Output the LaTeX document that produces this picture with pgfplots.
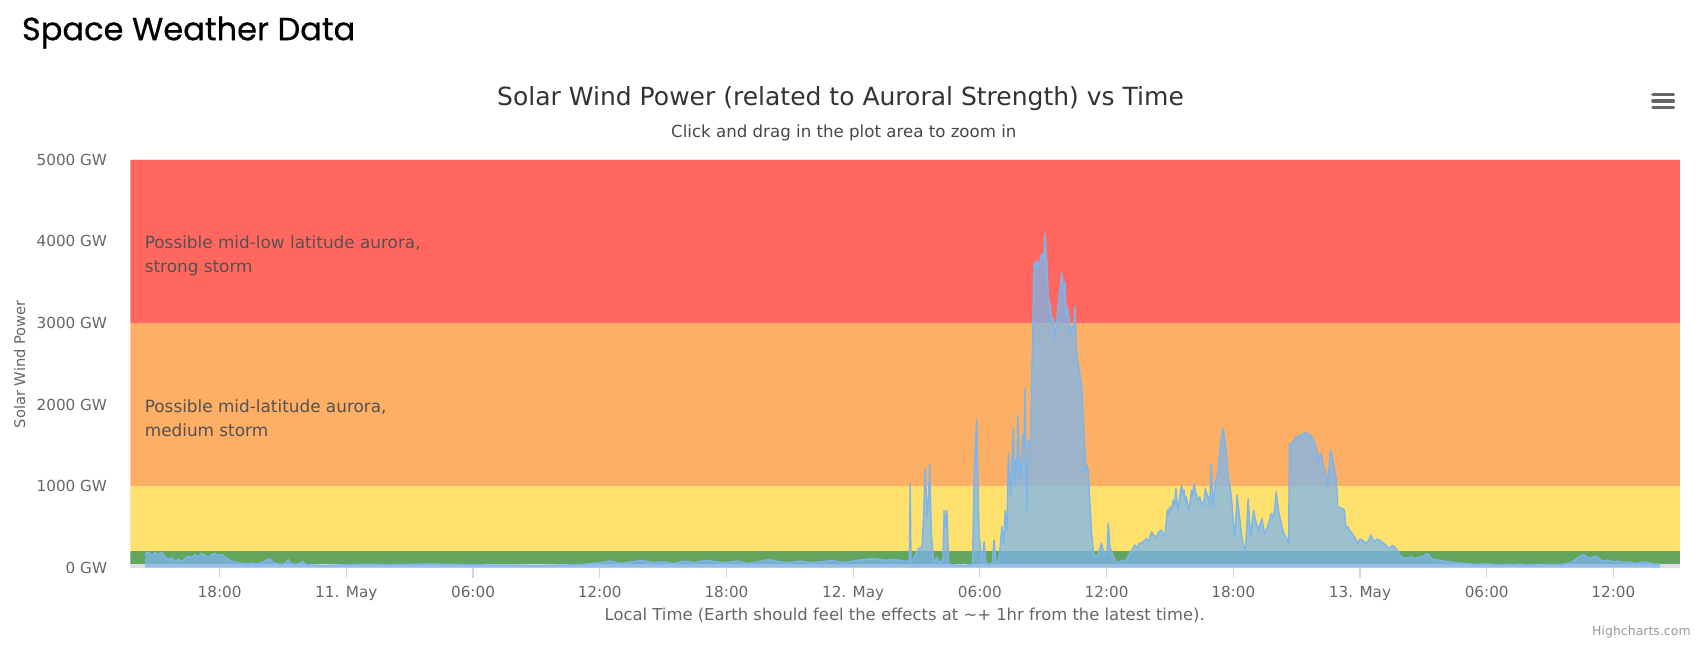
\documentclass[border=0pt]{standalone}
\usepackage{pgfplots}
\pgfplotsset{compat=1.18}
\usepackage{pgfplotstable}
\usepackage{fontspec}
\setmainfont{DejaVu Sans}
\newfontfamily\headfont{Poppins}[FakeBold=0.6]
\definecolor{bandred}{HTML}{FF675F}
\definecolor{bandorange}{HTML}{FDAF65}
\definecolor{bandyellow}{HTML}{FFE26E}
\definecolor{bandgreen}{HTML}{63A55D}
\definecolor{bandgrey}{HTML}{DCDEE2}
\definecolor{hcblue}{HTML}{7CB5EC}
\definecolor{hcaxis}{HTML}{CCD6EB}
\definecolor{tdark}{HTML}{333333}
\definecolor{tmid}{HTML}{666666}
\definecolor{tlight}{HTML}{999999}

\pgfplotstableread{
x y
14.47 170
14.63 190
14.79 150
14.94 185
15.10 160
15.26 190
15.42 130
15.57 100
15.73 120
15.89 80
16.05 100
16.20 70
16.36 110
16.52 140
16.68 120
16.83 160
16.99 130
17.15 175
17.31 150
17.46 120
17.62 160
17.78 170
17.94 150
18.09 160
18.25 130
18.41 100
18.57 80
18.72 70
18.88 60
19.12 50
19.35 45
19.59 55
19.83 45
20.06 70
20.22 90
20.38 110
20.54 60
20.77 45
21.01 40
21.17 70
21.25 100
21.36 50
21.56 40
21.80 50
21.95 75
22.08 35
22.5 30
23.0 25
23.5 30
24.0 35
25.0 40
26.0 35
27.0 40
28.0 45
29.0 40
30.0 35
31.0 30
32.0 30
33.0 25
34.0 30
35.0 35
35.6 50
36.0 60
36.5 80
37.0 50
37.5 70
38.0 90
38.5 60
39.0 70
39.5 50
40.0 80
40.5 60
41.0 90
41.5 70
42.0 60
42.5 80
43.0 50
43.5 70
44.0 100
44.5 70
45.0 60
45.5 80
46.0 60
46.5 70
47.0 90
47.5 60
48.0 80
48.5 100
49.0 110
49.5 90
50.0 100
50.4 80
50.66 80
50.70 1030
50.74 60
50.94 150
51.10 235
51.26 250
51.33 600
51.41 1220
51.51 620
51.57 900
51.62 1265
51.70 420
51.81 50
51.96 130
52.12 50
52.25 100
52.31 700
52.39 500
52.44 700
52.52 50
52.83 30
53.30 25
53.65 40
53.74 1237
53.85 1822
53.96 420
54.09 50
54.20 317
54.29 50
54.48 40
54.59 60
54.67 338
54.77 50
54.88 80
54.96 250
55.04 500
55.12 300
55.20 700
55.28 450
55.35 1400
55.46 900
55.52 1300
55.59 1720
55.65 1000
55.70 1320
55.75 1150
55.80 1870
55.91 1070
55.97 1300
56.03 1640
56.09 1500
56.14 2200
56.22 660
56.30 1560
56.36 1450
56.41 1600
56.50 2870
56.57 3730
56.63 3650
56.69 3770
56.76 3690
56.82 3730
56.88 3800
56.93 3850
57.01 3770
57.05 3900
57.09 4100
57.13 3850
57.17 3730
57.24 3320
57.30 3250
57.35 3160
57.40 3080
57.45 2990
57.50 3050
57.56 2790
57.62 2950
57.67 3120
57.72 3260
57.76 3360
57.82 3450
57.87 3610
57.93 3480
57.98 3400
58.03 3500
58.08 3040
58.14 3200
58.19 3120
58.25 3000
58.30 2870
58.36 2950
58.43 2910
58.50 3200
58.58 2630
58.65 2500
58.71 2420
58.77 2300
58.82 2220
58.90 1810
58.96 1500
59.02 1200
59.08 1250
59.13 1200
59.19 900
59.24 660
59.30 400
59.37 210
59.45 130
59.61 170
59.76 300
59.90 150
60.02 200
60.08 542
60.16 255
60.32 133
60.45 80
60.55 51
60.70 90
60.87 72
61.00 130
61.10 174
61.20 220
61.34 276
61.45 240
61.55 300
61.66 297
61.78 330
61.89 358
62.00 320
62.13 440
62.25 390
62.36 378
62.48 440
62.60 460
62.68 410
62.76 378
62.82 560
62.88 705
62.93 650
62.99 746
63.07 700
63.15 828
63.22 760
63.28 971
63.33 820
63.39 705
63.47 880
63.55 1012
63.61 900
63.67 950
63.72 820
63.78 868
63.84 760
63.89 705
63.96 820
64.02 950
64.08 880
64.14 1032
64.20 950
64.25 889
64.33 820
64.41 868
64.49 800
64.57 766
64.63 850
64.68 971
64.75 900
64.81 868
64.88 746
64.96 1278
65.04 746
65.10 900
65.15 1053
65.22 1100
65.28 1196
65.34 1350
65.40 1523
65.46 1620
65.51 1708
65.57 1620
65.62 1523
65.67 1400
65.72 1196
65.78 1100
65.83 1032
65.89 900
65.94 787
66.00 550
66.07 378
66.12 600
66.18 889
66.24 750
66.30 623
66.38 420
66.46 297
66.57 194
66.63 450
66.70 848
66.76 600
66.82 378
66.89 550
66.96 705
67.02 620
67.09 542
67.15 500
67.20 460
67.28 540
67.36 603
67.42 500
67.48 419
67.56 470
67.64 501
67.72 600
67.80 664
67.88 620
67.96 705
68.03 930
68.09 800
68.14 705
68.20 620
68.27 542
68.35 460
68.43 399
68.52 360
68.62 297
68.66 1523
68.74 1500
68.82 1544
68.90 1580
68.98 1605
69.06 1590
69.14 1626
69.22 1610
69.29 1646
69.37 1630
69.45 1667
69.53 1640
69.61 1605
69.68 1620
69.76 1585
69.84 1530
69.92 1482
69.98 1400
70.03 1319
70.10 1380
70.16 1400
70.22 1300
70.29 1237
70.35 1200
70.40 1155
70.47 971
70.53 1200
70.60 1441
70.66 1400
70.71 1319
70.79 1200
70.87 1114
70.95 746
71.03 740
71.11 726
71.19 720
71.26 705
71.34 480
71.42 500
71.50 460
71.62 420
71.74 378
71.82 340
71.89 297
72.00 350
72.13 337
72.25 300
72.37 317
72.45 360
72.52 399
72.60 350
72.68 317
72.80 350
72.92 337
73.03 310
73.15 297
73.27 260
73.39 235
73.51 270
73.63 255
73.70 230
73.78 215
73.86 170
73.94 133
74.10 120
74.25 113
74.41 130
74.57 113
74.72 120
74.88 133
75.05 150
75.20 174
75.35 120
75.5 100
75.75 90
76.0 80
76.25 70
76.5 60
76.75 55
77.0 50
77.5 40
78.0 45
78.5 35
79.0 40
79.5 30
80.0 35
80.5 30
81.0 40
81.5 35
82.0 60
82.15 90
82.3 120
82.45 140
82.6 160
82.75 130
82.9 110
83.05 130
83.2 140
83.35 100
83.5 80
83.75 90
84.0 70
84.25 80
84.5 60
84.75 70
85.0 50
85.25 60
85.5 70
85.75 50
86.0 40
86.2 50
}\swdata

\begin{document}
\begin{tikzpicture}[x=1pt,y=1pt]
\begin{axis}[
  scale only axis,
  width=1425pt, height=375pt,
  at={(120pt,75pt)}, anchor=south west,
  xmin=13.78, xmax=87.15, ymin=0, ymax=5000,
  axis lines*=left,
  x axis line style={draw=hcaxis, line width=1pt, -},
  y axis line style={draw=none},
  xtick={18,24,30,36,42,48,54,60,66,72,78,84},
  xticklabels={18:00,11. May,06:00,12:00,18:00,12. May,06:00,12:00,18:00,13. May,06:00,12:00},
  ytick={0,1000,2000,3000,4000,5000},
  yticklabels={0 GW,1000 GW,2000 GW,3000 GW,4000 GW,5000 GW},
  tick align=outside,
  major tick length=10pt,
  xtick style={draw=hcaxis, line width=1pt},
  ytick style={draw=none},
  ticklabel style={font=\fontsize{14}{16}\selectfont, text=tmid},
  xticklabel style={yshift=-4pt},
  yticklabel style={xshift=-8pt},
  clip=true,
]
\fill[bandred] (axis cs:13.78,3000) rectangle (axis cs:87.15,5000);
\fill[bandorange] (axis cs:13.78,1000) rectangle (axis cs:87.15,3000);
\fill[bandyellow] (axis cs:13.78,200) rectangle (axis cs:87.15,1000);
\fill[bandgreen] (axis cs:13.78,50) rectangle (axis cs:87.15,200);
\fill[bandgrey] (axis cs:13.78,0) rectangle (axis cs:87.15,50);
\draw[draw=hcaxis!60, line width=1pt] (axis cs:13.78,5000) -- (axis cs:87.15,5000);
\addplot[draw=none, fill=hcblue, fill opacity=0.75] table[x=x,y=y] {\swdata} \closedcycle;
\addplot[draw=hcblue, line width=1.3pt, line join=round] table[x=x,y=y] {\swdata};
\end{axis}
% header
\node[anchor=base west, inner sep=0pt, font=\headfont\fontsize{29.5}{34}\selectfont, text=black] at (20,560) {Space Weather Data};
\node[anchor=center, inner sep=0pt, font=\fontsize{23}{26}\selectfont, text=tdark] at (773,506) {Solar Wind Power (related to Auroral Strength) vs Time};
\node[anchor=center, inner sep=0pt, font=\fontsize{15.3}{17}\selectfont, text=tmid!70!black] at (776,475) {Click and drag in the plot area to zoom in};
% hamburger
\foreach \yy in {87,93,99} {
  \draw[tmid, line width=3pt, line cap=round] (1520,597-\yy) -- (1539,597-\yy);
}
% band labels
\node[anchor=west, inner sep=0pt, align=left, font=\fontsize{15.5}{22}\selectfont, text=tmid!80!black] at (133,362) {Possible mid-low latitude aurora,\\strong storm};
\node[anchor=west, inner sep=0pt, align=left, font=\fontsize{15.5}{22}\selectfont, text=tmid!80!black] at (133,212) {Possible mid-latitude aurora,\\medium storm};
% axis titles
\node[anchor=center, inner sep=0pt, rotate=90, font=\fontsize{13.5}{15}\selectfont, text=tmid] at (18,262) {Solar Wind Power};
\node[anchor=center, inner sep=0pt, font=\fontsize{15.1}{17}\selectfont, text=tmid] at (832,31) {Local Time (Earth should feel the effects at \textasciitilde+ 1hr from the latest time).};
\node[anchor=east, inner sep=0pt, font=\fontsize{11.5}{13}\selectfont, text=tlight] at (1555,16) {Highcharts.com};
\pgfresetboundingbox
\useasboundingbox (0,0) rectangle (1568,597);
\end{tikzpicture}
\end{document}
